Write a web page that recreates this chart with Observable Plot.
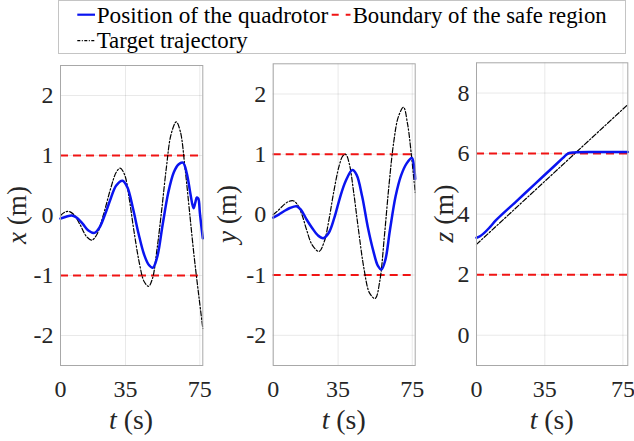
<!DOCTYPE html>
<html><head><meta charset="utf-8">
<script src="https://cdn.jsdelivr.net/npm/d3@7"></script>
<script src="https://cdn.jsdelivr.net/npm/@observablehq/plot@0.6"></script>
<style>
body{margin:0;background:#fff;}
#wrap{position:relative;width:634px;height:441px;overflow:hidden;color:#262626;}
.panel{position:absolute;}
#overlay{position:absolute;left:0;top:0;pointer-events:none;}
</style>
</head><body>
<div id="wrap"></div>
<script>
// ---------- data ----------
const xTicks = [0, 35, 75];
const xyTicks = [-2, -1, 0, 1, 2];
const zTicks = [0, 2, 4, 6, 8];
const xBounds = [-1, 1];
const yBounds = [-1, 1];
const zBounds = [2, 6];

// x (m)
const tXTarget = [0,2,4.3,7,10.5,14,16.9,19.5,23,27,30,32.1,34.5,37,39.5,42.5,45,47.4,49.5,52,54.5,57,59.5,62.3,64.5,67,69.5,72,74.5,76.6];
const xTarget  = [0,0.05,0.07,0.02,-0.15,-0.35,-0.41,-0.32,0,0.45,0.72,0.79,0.68,0.28,-0.25,-0.8,-1.1,-1.18,-1.05,-0.55,0.1,0.8,1.35,1.56,1.4,0.8,0.05,-0.7,-1.35,-1.88];
const tXPos = [0,3,6.1,9,12,15,18.3,21,24,27,30,33.4,36,39,42,45,47.5,49.7,52,55,58,61,63.5,65.9,68,70,71.6,72.6,73.4,74.2,75,75.9,76.6];
const xPos  = [-0.05,-0.02,0,-0.04,-0.14,-0.25,-0.29,-0.2,0.02,0.28,0.5,0.58,0.47,0.12,-0.3,-0.65,-0.82,-0.87,-0.7,-0.15,0.38,0.72,0.85,0.88,0.7,0.35,0.12,0.22,0.3,0.28,0.05,-0.2,-0.38];

// y (m)
const tYTarget = [0,3,6,8.5,10.8,13,15.5,18,21,24.7,27.5,30,32.5,35.5,37.5,39.1,41,43.5,46,49,52,55,57.5,60,62.5,65,67.5,70.3,72.5,74.5,76.6];
const yTarget  = [0,0.08,0.17,0.22,0.23,0.17,0,-0.25,-0.5,-0.61,-0.45,-0.1,0.35,0.8,0.97,1.0,0.85,0.35,-0.25,-0.9,-1.3,-1.39,-1.1,-0.35,0.5,1.2,1.62,1.78,1.5,1.0,0.37];
const tYPos = [0,3,6,9,12.6,15,18,21,24,27,30,33,36,39,42.7,45,48,51,54,56.5,58.4,60.5,63,66,69,72,74.8,75.9,76.6];
const yPos  = [-0.05,0,0.06,0.11,0.14,0.08,-0.08,-0.22,-0.34,-0.39,-0.3,-0.05,0.28,0.55,0.74,0.66,0.3,-0.2,-0.6,-0.85,-0.91,-0.75,-0.25,0.3,0.65,0.85,0.94,0.82,0.59];

// z (m)
const tZTarget = [0, 77.5];
const zTarget  = [3.0, 7.62];
const tZPos = [0,2,4,7,10,20,30,40,44,46,47.5,50,60,70,77.5];
const zPos  = [3.22,3.28,3.38,3.58,3.8,4.4,5.0,5.6,5.84,5.96,6.02,6.04,6.05,6.05,6.05];

const legendLabels = ["Position of the quadrotor", "Boundary of the safe region", "Target trajectory"];
const yLabels = ["x", "y", "z"];
const xLabel = "t";

// ---------- styles ----------
const BLUE = "#0a14f0", RED = "#f01414", FRAME = "#a8a8a8";
const FONT = "Liberation Serif";

const rows = (ts, vs) => ts.map((t, i) => ({t, v: vs[i]}));
const wrap = document.getElementById("wrap");

function panel(o) {
  const p = Plot.plot({
    width: o.width, height: o.height,
    marginLeft: o.ml, marginRight: o.mr, marginTop: o.mt, marginBottom: o.mb,
    style: {background: "transparent", fontFamily: FONT, fontSize: "24px", color: "#262626", overflow: "visible"},
    x: {domain: o.xDomain, ticks: xTicks, tickSize: 0, tickPadding: 14, tickFormat: d => String(d), grid: true, label: null},
    y: {domain: o.yDomain, ticks: o.yTicks, tickSize: 0, tickPadding: 7, tickFormat: d => String(d), grid: true, label: null},
    marks: [
      Plot.ruleY(o.bounds, {stroke: RED, strokeWidth: 2, strokeDasharray: "8,5"}),
      Plot.line(o.target, {x: "t", y: "v", stroke: "#000", strokeWidth: 1.2, strokeDasharray: "5,2,1.5,2", curve: "catmull-rom"}),
      Plot.line(o.pos, {x: "t", y: "v", stroke: BLUE, strokeWidth: 2.5, curve: "catmull-rom"}),
      Plot.frame({stroke: FRAME, strokeWidth: 1})
    ]
  });
  p.classList.add("panel");
  p.style.left = o.left + "px";
  p.style.top = o.top + "px";
  wrap.appendChild(p);
}

panel({left: 0, top: 56, width: 210, height: 385, ml: 60, mr: 7.7, mt: 9, mb: 76,
  xDomain: [0, 76.6], yDomain: [-2.5, 2.5], yTicks: xyTicks, bounds: xBounds,
  target: rows(tXTarget, xTarget), pos: rows(tXPos, xPos)});
panel({left: 210, top: 56, width: 210, height: 385, ml: 62.7, mr: 5.3, mt: 7.3, mb: 76,
  xDomain: [0, 76.6], yDomain: [-2.5, 2.5], yTicks: xyTicks, bounds: yBounds,
  target: rows(tYTarget, yTarget), pos: rows(tYPos, yPos)});
panel({left: 420, top: 56, width: 214, height: 385, ml: 56, mr: 6.7, mt: 6.3, mb: 76,
  xDomain: [0, 77.5], yDomain: [-1, 9], yTicks: zTicks, bounds: zBounds,
  target: rows(tZTarget, zTarget), pos: rows(tZPos, zPos)});

// ---------- overlay: legend + axis titles ----------
const svg = d3.create("svg").attr("id", "overlay").attr("width", 634).attr("height", 441)
  .attr("font-family", FONT).style("font-family", FONT);

// axis titles (italic variable + unit)
const yLabPos = [[26, 215], [236, 214], [453, 213.6]];
yLabels.forEach((v, i) => {
  const t = svg.append("text").attr("transform", `translate(${yLabPos[i][0]},${yLabPos[i][1]}) rotate(-90)`)
    .attr("text-anchor", "middle").attr("font-size", 27).attr("fill", "#262626")
    .attr("textLength", 58).attr("lengthAdjust", "spacingAndGlyphs");
  t.append("tspan").attr("font-style", "italic").text(v);
  t.append("tspan").text(" (m)");
});
[131, 343.7, 551.7].forEach(cx => {
  const t = svg.append("text").attr("x", cx).attr("y", 429)
    .attr("text-anchor", "middle").attr("font-size", 27).attr("fill", "#262626")
    .attr("textLength", 44).attr("lengthAdjust", "spacingAndGlyphs");
  t.append("tspan").attr("font-style", "italic").text(xLabel);
  t.append("tspan").text(" (s)");
});

// legend
svg.append("rect").attr("x", 58.5).attr("y", 0.5).attr("width", 567).attr("height", 53)
  .attr("fill", "#fff").attr("stroke", "#c4c4c4");
const items = [
  {label: legendLabels[0], lx: 77.3, lx2: 95, tx: 96.7, tw: 231.6, y: 14.7, by: 22.7, stroke: BLUE, w: 2.2, dash: null},
  {label: legendLabels[1], lx: 331.7, lx2: 350.5, tx: 352.7, tw: 254, y: 14.7, by: 22.7, stroke: RED, w: 2, dash: "7,7"},
  {label: legendLabels[2], lx: 77.3, lx2: 95, tx: 96.7, tw: 151, y: 40.7, by: 47.7, stroke: "#000", w: 1.2, dash: "3,1.5,1,1.5"}
];
for (const it of items) {
  svg.append("line").attr("x1", it.lx).attr("x2", it.lx2).attr("y1", it.y).attr("y2", it.y)
    .attr("stroke", it.stroke).attr("stroke-width", it.w).attr("stroke-dasharray", it.dash);
  svg.append("text").attr("x", it.tx).attr("y", it.by).attr("fill", "#000").attr("font-size", 23)
    .attr("textLength", it.tw).attr("lengthAdjust", "spacingAndGlyphs").text(it.label);
}
wrap.appendChild(svg.node());
</script>
</body></html>
